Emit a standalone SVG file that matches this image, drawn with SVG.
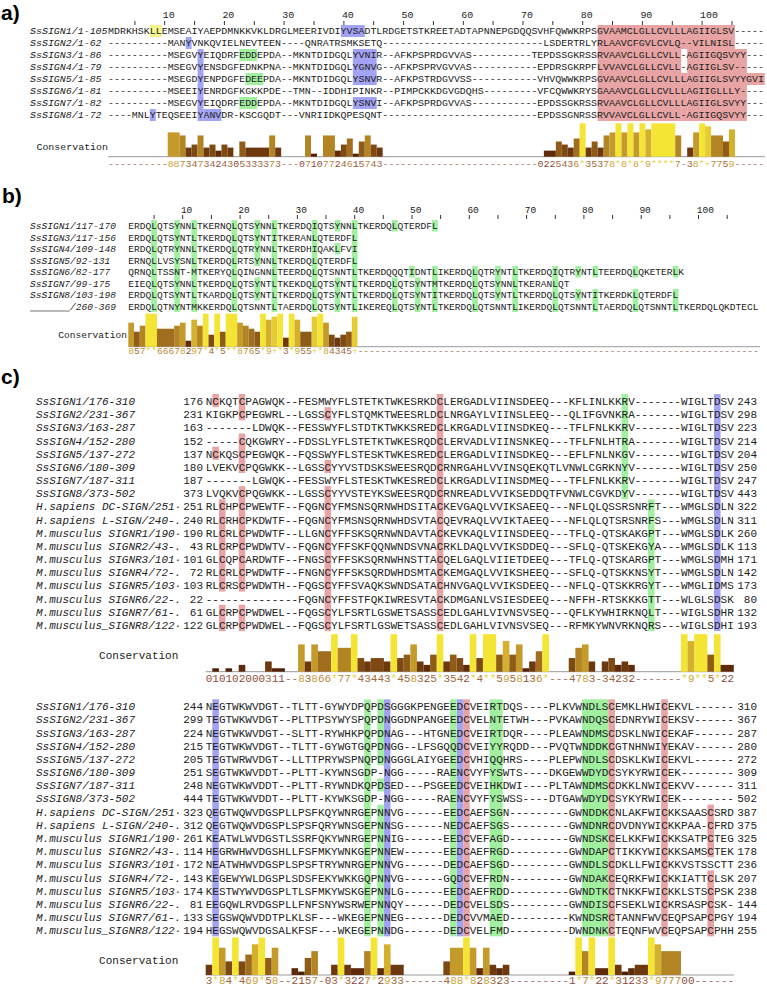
<svg xmlns="http://www.w3.org/2000/svg" width="767" height="987" viewBox="0 0 767 987">
<style>
text{font-family:"Liberation Mono","DejaVu Sans Mono",monospace;fill:#222}
.fa{font-size:9.95px}.fb{font-size:9.55px}.fc{font-size:11px}
.it{font-style:italic}
.pl{font-family:"Liberation Sans",Arial,sans-serif;font-weight:bold;font-size:21px;fill:#000}
.en{text-anchor:end}
.hy{fill:#f5f58c}.hb{fill:#a3a3f5}.hg{fill:#a0f0a0}.hp{fill:#e8a4a4}
.b1{fill:#502006}.b2{fill:#5e2a0a}.b3{fill:#6e380e}.b4{fill:#7e4a14}.b5{fill:#8f5c18}.b6{fill:#a06e1e}.b7{fill:#b28424}.b8{fill:#c49a2a}.b9{fill:#d4b02e}.b10{fill:#e6cc34}.b11{fill:#f4e434}
.nd{fill:#a8706a}.n0{fill:#8e4c3e}.n3{fill:#9e6a3e}.n6{fill:#b8893a}.n8{fill:#cca53a}.n10{fill:#e6d444}
.ax{stroke:#999;stroke-width:1;fill:none}
.tk{stroke:#333;stroke-width:1;fill:none}
</style>
<rect width="767" height="987" fill="#fff"/>

<g id="panel-a">
<text class="pl" x="1" y="20">a)</text>
<g id="a-ruler" class="fa">
<path class="tk" d="M134.9 21v4M164.7 21v4M194.6 21v4M224.4 21v4M254.3 21v4M284.1 21v4M314 21v4M343.9 21v4M373.7 21v4M403.6 21v4M433.4 21v4M463.3 21v4M493.1 21v4M523 21v4M552.8 21v4M582.7 21v4M612.5 21v4M642.4 21v4M672.3 21v4M702.1 21v4M732 21v4"/>
<text x="162.7" y="18.3">10</text><text x="222.4" y="18.3">20</text><text x="282.2" y="18.3">30</text><text x="341.9" y="18.3">40</text><text x="401.6" y="18.3">50</text><text x="461.3" y="18.3">60</text><text x="521" y="18.3">70</text><text x="580.7" y="18.3">80</text><text x="640.4" y="18.3">90</text><text x="700.1" y="18.3">100</text>
</g>
<g id="a-highlights" transform="translate(108 25) scale(5.971 12)">
<rect class="hy" x="7" y="0" width="2" height="1"/>
<rect class="hb" x="39" y="0" width="4" height="1"/>
<rect class="hb" x="13" y="1" width="1" height="1"/>
<rect class="hb" x="15" y="2" width="1" height="6"/>
<rect class="hb" x="16" y="7" width="3" height="1"/>
<rect class="hb" x="7" y="7" width="1" height="1"/>
<rect class="hb" x="41" y="2" width="4" height="3"/>
<rect class="hb" x="41" y="6" width="4" height="1"/>
<rect class="hg" x="22" y="2" width="3" height="1"/>
<rect class="hg" x="23" y="4" width="3" height="1"/>
<rect class="hg" x="22" y="6" width="3" height="1"/>
<rect class="hp" x="82" y="0" width="23" height="2"/>
<rect class="hp" x="82" y="2" width="14" height="6"/>
<rect class="hp" x="96" y="4" width="1" height="4"/>
<rect class="hp" x="97" y="2" width="10" height="6"/>
<rect class="hp" x="107" y="4" width="3" height="1"/>
</g>
<g id="a-names" class="fa it">
<text x="30" y="34.4">SsSIGN1/1-105</text>
<text x="30" y="46.4">SsSIGN2/1-62</text>
<text x="30" y="58.4">SsSIGN3/1-86</text>
<text x="30" y="70.4">SsSIGN4/1-79</text>
<text x="30" y="82.4">SsSIGN5/1-85</text>
<text x="30" y="94.4">SsSIGN6/1-81</text>
<text x="30" y="106.4">SsSIGN7/1-82</text>
<text x="30" y="118.4">SsSIGN8/1-72</text>
</g>
<g id="a-sequences" class="fa">
<text x="108" y="34.4">MDRKHSKLLEMSEAIYAEPDMNKKVKLDRGLMEERIVDIYVSADTLRDGETSTKREETADTAPNNEPGDQQSVHFQWWKRPSGVAAMCLGLLCVLLLAGIIGLSV-----</text>
<text x="108" y="46.4">----------MANYVNKQVIELNEVTEEN----QNRATRSMKSETQ---------------------------LSDERTRLYRLAAVCFGVLCVLQ--VILNISL-----</text>
<text x="108" y="58.4">----------MSEGVYEIQDRFEDDEPDA--MKNTDIDGQLYVNIR--AFKPSPRDGVVAS----------TEPDSSGKRSSRVAAVCLGLLCVLL-AGIIGQSVYY---</text>
<text x="108" y="70.4">----------MSEGVYENSDGFEDNKPNA--MKNTDIDGQLYGNVG--AFKPSPRVGVVAS-----------EPDRSGKRPFLVVAVCLGLLCVLL-AGIIGLSV-----</text>
<text x="108" y="82.4">----------MSEGDYENPDGFEDEEPDA--MKNTDIDGQLYSNVR--AFKPSTRDGVVSS-----------VHVQWWKRPSGVAAVCLGLLCVLLLAGIIGLSVYYGVI</text>
<text x="108" y="94.4">----------MSEEIYENRDGFKGKKPDE--TMN--IDDHIPINKR--PIMPCKKDGVGDQHS---------VFCQWWKRYSGAAAVCLGLLCVLLLAGIIGLLLY----</text>
<text x="108" y="106.4">----------MSEGVYEIQDRFEDDEPDA--MKNTDIDGQLYSNVI--AFKPSPRDGVVAS-----------EPDSSGKRSSRVAAVCLGLLCVLLLAGIIGLSVYY---</text>
<text x="108" y="118.4">----MNLYTEQSEEIYANVDR-KSCGQDT---VNRIIDKQPESQNT--------------------------EPDSSGNRSSRVVAVCLGLLCVLL-AGIIGQSVYY---</text>
</g>
<g id="a-conservation">
<text class="fa en" x="108" y="150">Conservation</text>
<path class="ax" d="M108 156.7H765"/>
<g transform="translate(108 156.7) scale(5.971 -3.036)">
<rect class="b8" x="10" width="2" height="8"/><rect class="b7" x="12" width="1" height="7"/><rect class="b3" x="13" width="1" height="3"/><rect class="b4" x="14" width="1" height="4"/><rect class="b7" x="15" width="1" height="7"/><rect class="b3" x="16" width="1" height="3"/><rect class="b4" x="17" width="1" height="4"/><rect class="b2" x="18" width="1" height="2"/><rect class="b4" x="19" width="1" height="4"/><rect class="b3" x="20" width="1" height="3"/><rect class="b5" x="22" width="1" height="5"/><rect class="b3" x="23" width="4" height="3"/><rect class="b7" x="27" width="1" height="7"/><rect class="b3" x="28" width="1" height="3"/>
<rect class="b7" x="33" width="1" height="7"/><rect class="b1" x="34" width="1" height="1"/><rect class="b7" x="36" width="2" height="7"/><rect class="b2" x="38" width="1" height="2"/><rect class="b4" x="39" width="1" height="4"/><rect class="b6" x="40" width="1" height="6"/><rect class="b1" x="41" width="1" height="1"/><rect class="b5" x="42" width="1" height="5"/><rect class="b7" x="43" width="1" height="7"/><rect class="b4" x="44" width="1" height="4"/><rect class="b3" x="45" width="1" height="3"/>
<rect class="b2" x="73" width="2" height="2"/><rect class="b5" x="75" width="1" height="5"/><rect class="b4" x="76" width="1" height="4"/><rect class="b3" x="77" width="1" height="3"/><rect class="b6" x="78" width="1" height="6"/><rect class="b11" x="79" width="1" height="11"/><rect class="b3" x="80" width="1" height="3"/><rect class="b5" x="81" width="1" height="5"/><rect class="b3" x="82" width="1" height="3"/><rect class="b7" x="83" width="1" height="7"/><rect class="b8" x="84" width="1" height="8"/><rect class="b11" x="85" width="1" height="11"/><rect class="b8" x="86" width="1" height="8"/><rect class="b11" x="87" width="1" height="11"/><rect class="b8" x="88" width="1" height="8"/><rect class="b11" x="89" width="1" height="11"/><rect class="b9" x="90" width="1" height="9"/><rect class="b11" x="91" width="4" height="11"/><rect class="b7" x="95" width="1" height="7"/><rect class="b3" x="97" width="1" height="3"/><rect class="b8" x="98" width="1" height="8"/><rect class="b11" x="99" width="1" height="11"/><rect class="b10" x="100" width="1" height="10"/><rect class="b7" x="101" width="2" height="7"/><rect class="b5" x="103" width="1" height="5"/><rect class="b9" x="104" width="1" height="9"/>
</g>
<text class="fa" x="108" y="166.5"><tspan class="nd">----------</tspan><tspan class="n8">88</tspan><tspan class="n6">7</tspan><tspan class="n3">34</tspan><tspan class="n6">7</tspan><tspan class="n3">34</tspan><tspan class="n0">2</tspan><tspan class="n3">43</tspan><tspan class="n0">0</tspan><tspan class="n3">53333</tspan><tspan class="n6">7</tspan><tspan class="n3">3</tspan><tspan class="nd">---</tspan><tspan class="n0">0</tspan><tspan class="n6">7</tspan><tspan class="n0">10</tspan><tspan class="n6">77</tspan><tspan class="n0">2</tspan><tspan class="n3">4</tspan><tspan class="n6">6</tspan><tspan class="n0">1</tspan><tspan class="n3">5</tspan><tspan class="n6">7</tspan><tspan class="n3">43</tspan><tspan class="nd">--------------------------</tspan><tspan class="n0">022</tspan><tspan class="n3">543</tspan><tspan class="n6">6</tspan><tspan class="n10">*</tspan><tspan class="n3">353</tspan><tspan class="n6">7</tspan><tspan class="n8">8</tspan><tspan class="n10">*</tspan><tspan class="n8">8</tspan><tspan class="n10">*</tspan><tspan class="n8">8</tspan><tspan class="n10">*</tspan><tspan class="n8">9</tspan><tspan class="n10">****</tspan><tspan class="n6">7</tspan><tspan class="nd">-</tspan><tspan class="n3">3</tspan><tspan class="n8">8</tspan><tspan class="n10">*+</tspan><tspan class="n6">77</tspan><tspan class="n3">5</tspan><tspan class="n8">9</tspan><tspan class="nd">-----</tspan></text>
</g>
</g>

<g id="panel-b">
<text class="pl" x="2" y="203">b)</text>
<g id="b-ruler" class="fb">
<path class="tk" d="M154.1 215v4M182.7 215v4M211.4 215v4M240.1 215v4M268.7 215v4M297.4 215v4M326 215v4M354.7 215v4M383.3 215v4M412 215v4M440.6 215v4M469.3 215v4M498 215v4M526.6 215v4M555.3 215v4M583.9 215v4M612.6 215v4M641.2 215v4M669.9 215v4M698.5 215v4M727.2 215v4"/>
<text x="180.9" y="213.3">10</text><text x="238.2" y="213.3">20</text><text x="295.5" y="213.3">30</text><text x="352.8" y="213.3">40</text><text x="410.1" y="213.3">50</text><text x="467.4" y="213.3">60</text><text x="524.7" y="213.3">70</text><text x="582.1" y="213.3">80</text><text x="639.4" y="213.3">90</text><text x="696.7" y="213.3">100</text>
</g>
<g id="b-highlights" class="hg" transform="translate(128.3 220) scale(5.731 11.5)">
<rect x="4" y="0" width="1" height="8"/><rect x="8" y="0" width="1" height="8"/><rect x="11" y="0" width="1" height="8"/><rect x="18" y="0" width="1" height="8"/>
<rect x="22" y="0" width="1" height="4"/><rect x="22" y="5" width="1" height="2"/><rect x="25" y="0" width="1" height="8"/><rect x="32" y="0" width="1" height="8"/>
<rect x="36" y="0" width="1" height="1"/><rect x="36" y="2" width="1" height="1"/><rect x="36" y="5" width="1" height="3"/><rect x="39" y="0" width="1" height="8"/>
<rect x="46" y="0" width="1" height="1"/><rect x="46" y="5" width="1" height="3"/><rect x="49" y="4" width="1" height="1"/><rect x="50" y="5" width="1" height="3"/>
<rect x="53" y="0" width="1" height="1"/><rect x="53" y="4" width="1" height="4"/><rect x="60" y="4" width="1" height="4"/><rect x="64" y="4" width="1" height="3"/>
<rect x="67" y="4" width="1" height="4"/><rect x="74" y="4" width="1" height="4"/><rect x="78" y="4" width="1" height="1"/><rect x="78" y="6" width="1" height="1"/>
<rect x="81" y="4" width="1" height="1"/><rect x="81" y="6" width="1" height="2"/><rect x="88" y="4" width="1" height="1"/><rect x="88" y="6" width="1" height="2"/>
<rect x="95" y="4" width="1" height="1"/><rect x="95" y="6" width="1" height="2"/>
</g>
<g id="b-names" class="fb it">
<text x="30" y="229">SsSIGN1/117-170</text>
<text x="30" y="240.5">SsSIGN3/117-156</text>
<text x="30" y="252">SsSIGN4/109-148</text>
<text x="30" y="263.5">SsSIGN5/92-131</text>
<text x="30" y="275">SsSIGN6/82-177</text>
<text x="30" y="286.5">SsSIGN7/99-175</text>
<text x="30" y="298">SsSIGN8/103-198</text>
<path d="M30 311H70" stroke="#777" stroke-width="1"/>
<text x="70.1" y="309.5">/260-369</text>
</g>
<g id="b-sequences" class="fb">
<text x="128.3" y="229">ERDQLQTSYNNLTKERNQLQTSYNNLTKERDQIQTSYNNLTKERDQLQTERDFL</text>
<text x="128.3" y="240.5">ERDQLQTSYNTLTKERDQLQTSYNTITKERANLQTERDFL</text>
<text x="128.3" y="252">ERDQLQTRYNNLTKERDQLQTRYNNLTKERDHIQAKLFVI</text>
<text x="128.3" y="263.5">ERNQLLVSYSNLTKERDQLRTSYNNLTKERDQLQTERDFL</text>
<text x="128.3" y="275">QRNQLTSSNT-MTKERYQLQINGNNLTEERDQLQTSNNTLTKERDQQQTIDNTLIKERDQLQTRYNTLTKERDQIQTRYNTLTEERDQLQKETERLK</text>
<text x="128.3" y="286.5">EIEQLQTSYNNLTKERDQLQTSYNTLTKEKDQLQTSYNTLTKERDQLQTSYNTMTKERDQLQTSYNNLTKERANLQT</text>
<text x="128.3" y="298">ERDQLQTSYNTLTKARDQLQTSYNTLTKERDQLQTSYNTLTKERDQLQTSYNTITKERDQLQTSYNTLTKERDQLQTSYNTITKERDKLQTERDFL</text>
<text x="128.3" y="309.5">ERDQLQTNYNTMKKERDQLQTSNNTLTAERDQLQTSYNTLIKEREQLQTSYNTLTKERDQLQTSNNTLIKERDQLQTSNNTLTAERDQLQTSNNTLTKERDQLQKDTECL</text>
</g>
<g id="b-conservation">
<text class="fb en" x="127" y="338.3">Conservation</text>
<path class="ax" d="M128.3 346.7H760"/>
<g transform="translate(128.3 346.7) scale(5.731 -3)">
<rect class="b8" x="0" width="1" height="8"/><rect class="b5" x="1" width="1" height="5"/><rect class="b7" x="2" width="1" height="7"/><rect class="b11" x="3" width="2" height="11"/><rect class="b6" x="5" width="3" height="6"/><rect class="b7" x="8" width="1" height="7"/><rect class="b8" x="9" width="1" height="8"/><rect class="b2" x="10" width="1" height="2"/><rect class="b9" x="11" width="1" height="9"/><rect class="b7" x="12" width="1" height="7"/><rect class="b11" x="13" width="1" height="11"/><rect class="b4" x="14" width="1" height="4"/><rect class="b11" x="15" width="1" height="11"/><rect class="b5" x="16" width="1" height="5"/><rect class="b11" x="17" width="2" height="11"/><rect class="b8" x="19" width="1" height="8"/><rect class="b7" x="20" width="1" height="7"/><rect class="b6" x="21" width="1" height="6"/><rect class="b5" x="22" width="1" height="5"/><rect class="b11" x="23" width="1" height="11"/><rect class="b9" x="24" width="1" height="9"/><rect class="b10" x="25" width="1" height="10"/><rect class="b11" x="26" width="1" height="11"/><rect class="b3" x="27" width="1" height="3"/><rect class="b11" x="28" width="1" height="11"/><rect class="b9" x="29" width="1" height="9"/><rect class="b5" x="30" width="2" height="5"/><rect class="b10" x="32" width="1" height="10"/><rect class="b11" x="33" width="1" height="11"/><rect class="b8" x="34" width="1" height="8"/><rect class="b4" x="35" width="1" height="4"/><rect class="b3" x="36" width="1" height="3"/><rect class="b4" x="37" width="1" height="4"/><rect class="b5" x="38" width="1" height="5"/><rect class="b10" x="39" width="1" height="10"/>
</g>
<text class="fb" x="128.3" y="354.3"><tspan class="n8">8</tspan><tspan class="n3">5</tspan><tspan class="n6">7</tspan><tspan class="n10">**</tspan><tspan class="n6">6667</tspan><tspan class="n8">8</tspan><tspan class="n0">2</tspan><tspan class="n8">9</tspan><tspan class="n6">7</tspan><tspan class="n10">*</tspan><tspan class="n3">4</tspan><tspan class="n10">*</tspan><tspan class="n3">5</tspan><tspan class="n10">**</tspan><tspan class="n8">8</tspan><tspan class="n6">76</tspan><tspan class="n3">5</tspan><tspan class="n10">*</tspan><tspan class="n8">9</tspan><tspan class="n10">+*</tspan><tspan class="n3">3</tspan><tspan class="n10">*</tspan><tspan class="n8">9</tspan><tspan class="n3">55</tspan><tspan class="n10">+*</tspan><tspan class="n8">8</tspan><tspan class="n3">4345</tspan><tspan class="n10">+</tspan><tspan class="nd">----------------------------------------------------------------------</tspan></text>
</g>
</g>

<g id="panel-c">
<text class="pl" x="1" y="383.5">c)</text>
<g id="c1-highlights" transform="translate(205.7 394) scale(6.601 13.17)">
<rect class="hp" x="1" y="0" width="1" height="1"/><rect class="hp" x="1" y="4" width="1" height="1"/><rect class="hp" x="2" y="8" width="1" height="7"/><rect class="hp" x="2" y="16" width="1" height="2"/>
<rect class="hp" x="5" y="0" width="1" height="2"/><rect class="hp" x="5" y="3" width="1" height="3"/><rect class="hp" x="5" y="7" width="1" height="8"/><rect class="hp" x="5" y="16" width="1" height="2"/>
<rect class="hp" x="18" y="1" width="1" height="1"/><rect class="hp" x="18" y="5" width="1" height="1"/><rect class="hp" x="18" y="7" width="1" height="11"/><rect class="hp" x="35" y="0" width="1" height="18"/>
<rect class="hg" x="63" y="0" width="1" height="8"/><rect class="hg" x="67" y="8" width="1" height="10"/><rect class="hb" x="77" y="0" width="1" height="18"/>
</g>
<g id="c1-names" class="fc it">
<text x="36" y="405">SsSIGN1/176-310</text>
<text x="36" y="418.17">SsSIGN2/231-367</text>
<text x="36" y="431.34">SsSIGN3/163-287</text>
<text x="36" y="444.51">SsSIGN4/152-280</text>
<text x="36" y="457.68">SsSIGN5/137-272</text>
<text x="36" y="470.85">SsSIGN6/180-309</text>
<text x="36" y="484.02">SsSIGN7/187-311</text>
<text x="36" y="497.19">SsSIGN8/373-502</text>
<text x="36" y="510.36">H.sapiens DC-SIGN/251·</text>
<text x="36" y="523.53">H.sapiens L-SIGN/240-.</text>
<text x="36" y="536.7">M.musculus SIGNR1/190·</text>
<text x="36" y="549.87">M.musculus SIGNR2/43-.</text>
<text x="36" y="563.04">M.musculus SIGNR3/101·</text>
<text x="36" y="576.21">M.musculus SIGNR4/72-.</text>
<text x="36" y="589.38">M.musculus SIGNR5/103·</text>
<text x="36" y="602.55">M.musculus SIGNR6/22-.</text>
<text x="36" y="615.72">M.musculus SIGNR7/61-.</text>
<text x="36" y="628.89">M.musculus_SIGNR8/122·</text>
</g>
<g id="c1-start" class="fc en">
<text x="203" y="405">176</text><text x="203" y="418.17">231</text><text x="203" y="431.34">163</text><text x="203" y="444.51">152</text><text x="203" y="457.68">137</text><text x="203" y="470.85">180</text><text x="203" y="484.02">187</text><text x="203" y="497.19">373</text><text x="203" y="510.36">251</text><text x="203" y="523.53">240</text><text x="203" y="536.7">190</text><text x="203" y="549.87">43</text><text x="203" y="563.04">101</text><text x="203" y="576.21">72</text><text x="203" y="589.38">103</text><text x="203" y="602.55">22</text><text x="203" y="615.72">61</text><text x="203" y="628.89">122</text>
</g>
<g id="c1-sequences" class="fc">
<text x="205.7" y="405">NCKQTCPAGWQK--FESMWYFLSTETKTWKESRKDCLERGADLVIINSDEEQ---KFLINLKKRV-------WIGLTDSV</text>
<text x="205.7" y="418.17">KIGKPCPEGWRL--LGSSCYFLSTQMKTWEESRLDCLNRGAYLVIINSLEEQ---QLIFGVNKRA-------WIGLTDSV</text>
<text x="205.7" y="431.34">-------LDWQK--FESSWYFLSTDTKTWKKSREDCLKRGADLVIINSDKEQ---TFLFNLKKRV-------WIGLTDSV</text>
<text x="205.7" y="444.51">-----CQKGWRY--FDSSLYFLSTETKTWKESRQDCLERVADLVIINSNKEQ---TFLFNLHTRA-------WIGLTDSV</text>
<text x="205.7" y="457.68">NCKQSCPEGWQK--FQSSWYFLSTESKTWKESREDCLERGADLVIINSDKEQ---EFLFNLNKGV-------WIGLTDSV</text>
<text x="205.7" y="470.85">LVEKVCPQGWKK--LGSSCYYVSTDSKSWEESRQDCRNRGAHLVVINSQEKQTLVNWLCGRKNYV-------WIGLTDSV</text>
<text x="205.7" y="484.02">-------LGWQK--FESSWYFLSTESKTWKESREDCLKRGADLVIINSDMEQ---TFLFNLKKRV-------WIGLTDSV</text>
<text x="205.7" y="497.19">LVQKVCPQGWKK--LGSSCYYVSTEYKSWEESRQDCRNREADLVVIKSEDDQTFVNWLCGVKDYV-------WIGLTDSV</text>
<text x="205.7" y="510.36">RLCHPCPWEWTF--FQGNCYFMSNSQRNWHDSITACKEVGAQLVVIKSAEEQ---NFLQLQSSRSNRFT---WMGLSDLN</text>
<text x="205.7" y="523.53">RLCRHCPKDWTF--FQGNCYFMSNSQRNWHDSVTACQEVRAQLVVIKTAEEQ---NFLQLQTSRSNRFS---WMGLSDLN</text>
<text x="205.7" y="536.7">RLCRLCPWDWTF--LLGNCYFFSKSQRNWNDAVTACKEVKAQLVIINSDEEQ---TFLQ-QTSKAKGPT---WMGLSDLK</text>
<text x="205.7" y="549.87">RLCRPCPWDWTV--FQGNCYFFSKFQQNWNDSVNACRKLDAQLVVIKSDDEQ---SFLQ-QTSKEKGYA---WMGLSDLK</text>
<text x="205.7" y="563.04">GLCQPCARDWTF--FNGSCYFFSKSQRNWHNSTTACQELGAQLVIIETDEEQ---TFLQ-QTSKARGPT---WMGLSDMH</text>
<text x="205.7" y="576.21">RLCRLCPWDWTF--FNGNCYFFSKSQRDWHDSMTACKEMGAQLVVIKSHEEQ---SFLQ-QTSKKNSYT---WMGLSDLN</text>
<text x="205.7" y="589.38">RLCRSCPWDWTH--FQGSCYFFSVAQKSWNDSATACHNVGAQLVVIKSDEEQ---NFLQ-QTSKKRGYT---WMGLIDMS</text>
<text x="205.7" y="602.55">--------------FQGNCYFFSTFQKIWRESVTACKDMGANLVSIESDEEQ---NFFH-RTSKKKGTT---WLGLSDSK</text>
<text x="205.7" y="615.72">GLCRPCPWDWEL--FQGSCYLFSRTLGSWETSASSCEDLGAHLVIVNSVSEQ---QFLKYWHIRKNQLT---WIGLSDHR</text>
<text x="205.7" y="628.89">GLCRPCPWDWEL--FQGSCYLFSRTLGSWETSASSCEDLGAHLVIVNSVSEQ---RFMKYWNVRKNQRS---WIGLSDHI</text>
</g>
<g id="c1-end" class="fc en">
<text x="757" y="405">243</text><text x="757" y="418.17">298</text><text x="757" y="431.34">223</text><text x="757" y="444.51">214</text><text x="757" y="457.68">204</text><text x="757" y="470.85">250</text><text x="757" y="484.02">247</text><text x="757" y="497.19">443</text><text x="757" y="510.36">322</text><text x="757" y="523.53">311</text><text x="757" y="536.7">260</text><text x="757" y="549.87">113</text><text x="757" y="563.04">171</text><text x="757" y="576.21">142</text><text x="757" y="589.38">173</text><text x="757" y="602.55">80</text><text x="757" y="615.72">132</text><text x="757" y="628.89">193</text>
</g>
<g id="c1-conservation">
<text class="fc en" x="178.3" y="659.3">Conservation</text>
<path class="ax" d="M205.7 671.7H734"/>
<g transform="translate(205.7 671.7) scale(6.601 -3.41)">
<rect class="b1" x="1" width="1" height="1"/><rect class="b1" x="3" width="1" height="1"/><rect class="b2" x="5" width="1" height="2"/><rect class="b3" x="9" width="1" height="3"/><rect class="b1" x="10" width="2" height="1"/><rect class="b8" x="14" width="1" height="8"/><rect class="b3" x="15" width="1" height="3"/><rect class="b8" x="16" width="1" height="8"/><rect class="b6" x="17" width="2" height="6"/><rect class="b11" x="19" width="1" height="11"/><rect class="b7" x="20" width="2" height="7"/><rect class="b11" x="22" width="1" height="11"/><rect class="b4" x="23" width="1" height="4"/><rect class="b3" x="24" width="1" height="3"/><rect class="b4" x="25" width="2" height="4"/><rect class="b3" x="27" width="1" height="3"/><rect class="b11" x="28" width="1" height="11"/><rect class="b4" x="29" width="1" height="4"/><rect class="b5" x="30" width="1" height="5"/><rect class="b8" x="31" width="1" height="8"/><rect class="b3" x="32" width="1" height="3"/><rect class="b2" x="33" width="1" height="2"/><rect class="b5" x="34" width="1" height="5"/><rect class="b11" x="35" width="1" height="11"/><rect class="b3" x="36" width="1" height="3"/><rect class="b5" x="37" width="1" height="5"/><rect class="b4" x="38" width="1" height="4"/><rect class="b2" x="39" width="1" height="2"/><rect class="b11" x="40" width="1" height="11"/><rect class="b4" x="41" width="1" height="4"/><rect class="b11" x="42" width="2" height="11"/><rect class="b5" x="44" width="1" height="5"/><rect class="b9" x="45" width="1" height="9"/><rect class="b5" x="46" width="1" height="5"/><rect class="b8" x="47" width="1" height="8"/><rect class="b1" x="48" width="1" height="1"/><rect class="b3" x="49" width="1" height="3"/><rect class="b6" x="50" width="1" height="6"/><rect class="b11" x="51" width="1" height="11"/>
<rect class="b4" x="55" width="1" height="4"/><rect class="b7" x="56" width="1" height="7"/><rect class="b8" x="57" width="1" height="8"/><rect class="b3" x="58" width="1" height="3"/><rect class="b3" x="60" width="1" height="3"/><rect class="b4" x="61" width="1" height="4"/><rect class="b2" x="62" width="1" height="2"/><rect class="b3" x="63" width="1" height="3"/><rect class="b2" x="64" width="1" height="2"/>
<rect class="b11" x="72" width="1" height="11"/><rect class="b9" x="73" width="1" height="9"/><rect class="b11" x="74" width="2" height="11"/><rect class="b5" x="76" width="1" height="5"/><rect class="b11" x="77" width="1" height="11"/><rect class="b2" x="78" width="2" height="2"/>
</g>
<text class="fc" x="205.7" y="681.5"><tspan class="n0">010102000</tspan><tspan class="n3">3</tspan><tspan class="n0">11</tspan><tspan class="nd">--</tspan><tspan class="n8">8</tspan><tspan class="n3">3</tspan><tspan class="n8">8</tspan><tspan class="n6">66</tspan><tspan class="n10">*</tspan><tspan class="n6">77</tspan><tspan class="n10">*</tspan><tspan class="n3">43443</tspan><tspan class="n10">*</tspan><tspan class="n3">45</tspan><tspan class="n8">8</tspan><tspan class="n3">3</tspan><tspan class="n0">2</tspan><tspan class="n3">5</tspan><tspan class="n10">*</tspan><tspan class="n3">354</tspan><tspan class="n0">2</tspan><tspan class="n10">*</tspan><tspan class="n3">4</tspan><tspan class="n10">**</tspan><tspan class="n3">5</tspan><tspan class="n8">9</tspan><tspan class="n3">5</tspan><tspan class="n8">8</tspan><tspan class="n0">1</tspan><tspan class="n3">3</tspan><tspan class="n6">6</tspan><tspan class="n10">*</tspan><tspan class="nd">---</tspan><tspan class="n3">4</tspan><tspan class="n6">7</tspan><tspan class="n8">8</tspan><tspan class="n3">3</tspan><tspan class="nd">-</tspan><tspan class="n3">34</tspan><tspan class="n0">2</tspan><tspan class="n3">3</tspan><tspan class="n0">2</tspan><tspan class="nd">-------</tspan><tspan class="n10">*</tspan><tspan class="n8">9</tspan><tspan class="n10">**</tspan><tspan class="n3">5</tspan><tspan class="n10">*</tspan><tspan class="n0">22</tspan></text>
</g>

<g id="c2-highlights" transform="translate(205.7 699.3) scale(6.601 13.17)">
<rect class="hb" x="1" y="0" width="1" height="18"/><rect class="hb" x="27" y="0" width="1" height="18"/><rect class="hb" x="38" y="0" width="1" height="18"/>
<rect class="hg" x="24" y="0" width="1" height="18"/><rect class="hg" x="26" y="0" width="1" height="5"/><rect class="hg" x="26" y="6" width="1" height="1"/><rect class="hg" x="26" y="8" width="1" height="10"/>
<rect class="hg" x="37" y="0" width="1" height="18"/><rect class="hg" x="43" y="0" width="2" height="18"/><rect class="hg" x="57" y="0" width="4" height="18"/>
<rect class="hp" x="39" y="0" width="1" height="18"/><rect class="hp" x="61" y="0" width="1" height="18"/><rect class="hp" x="69" y="0" width="1" height="18"/><rect class="hp" x="76" y="8" width="1" height="4"/><rect class="hp" x="76" y="13" width="1" height="5"/>
</g>
<g id="c2-names" class="fc it">
<text x="36" y="710.3">SsSIGN1/176-310</text>
<text x="36" y="723.47">SsSIGN2/231-367</text>
<text x="36" y="736.64">SsSIGN3/163-287</text>
<text x="36" y="749.81">SsSIGN4/152-280</text>
<text x="36" y="762.98">SsSIGN5/137-272</text>
<text x="36" y="776.15">SsSIGN6/180-309</text>
<text x="36" y="789.32">SsSIGN7/187-311</text>
<text x="36" y="802.49">SsSIGN8/373-502</text>
<text x="36" y="815.66">H.sapiens DC-SIGN/251·</text>
<text x="36" y="828.83">H.sapiens L-SIGN/240-.</text>
<text x="36" y="842">M.musculus SIGNR1/190·</text>
<text x="36" y="855.17">M.musculus SIGNR2/43-.</text>
<text x="36" y="868.34">M.musculus SIGNR3/101·</text>
<text x="36" y="881.51">M.musculus SIGNR4/72-.</text>
<text x="36" y="894.68">M.musculus SIGNR5/103·</text>
<text x="36" y="907.85">M.musculus SIGNR6/22-.</text>
<text x="36" y="921.02">M.musculus SIGNR7/61-.</text>
<text x="36" y="934.19">M.musculus_SIGNR8/122·</text>
</g>
<g id="c2-start" class="fc en">
<text x="203" y="710.3">244</text><text x="203" y="723.47">299</text><text x="203" y="736.64">224</text><text x="203" y="749.81">215</text><text x="203" y="762.98">205</text><text x="203" y="776.15">251</text><text x="203" y="789.32">248</text><text x="203" y="802.49">444</text><text x="203" y="815.66">323</text><text x="203" y="828.83">312</text><text x="203" y="842">261</text><text x="203" y="855.17">114</text><text x="203" y="868.34">172</text><text x="203" y="881.51">143</text><text x="203" y="894.68">174</text><text x="203" y="907.85">81</text><text x="203" y="921.02">133</text><text x="203" y="934.19">194</text>
</g>
<g id="c2-sequences" class="fc">
<text x="205.7" y="710.3">NEGTWKWVDGT--TLTT-GYWYDPQPDSGGGKPENGEEDCVEIRTDQS----PLKVWNDLSCEMKLHWICEKVL------</text>
<text x="205.7" y="723.47">TEGTWKWVDGT--PLTTPSYWYSPQPDNGGDNPANGEEDCVELNTETWH---PVKAWNDQSCEDNRYWICEKSV------</text>
<text x="205.7" y="736.64">NEGTWKWVDGT--SLTT-RYWHKPQPDNAG---HTGNEDCVEIRTDQR----PLEAWNDMSCDSKLNWICEKAF------</text>
<text x="205.7" y="749.81">TEGTWKWVDGT--TLTT-GYWGTGQPDNGG--LFSGQQDCVEIYYRQDD---PVQTWNDDKCGTNHNWIYEKAV------</text>
<text x="205.7" y="762.98">TEGTWRWVDGT--LLTTPRYWSPNQPDNGGGLAIYGEEDCVHIQQHRS----PLEPWNDLSCDSKLKWICEKVL------</text>
<text x="205.7" y="776.15">SEGTWKWVDDT--PLTT-KYWNSGDP-NGG-----RAENCVYFYSWTS----DKGEWWDYDCSYKYRWICEK--------</text>
<text x="205.7" y="789.32">NEGTWKWVDDT--PLTT-RYWNDKQPDSED---PSGEEDCVEIHKDWI----PLTAWNDMSCDKKLNWICEKVV------</text>
<text x="205.7" y="802.49">TEGTWKWVDDT--PLTT-KYWKSGDP-NGG-----RAENCVYFYSWSS----DTGAWWDYDCSYKYRWICEK--------</text>
<text x="205.7" y="815.66">QEGTWQWVDGSPLLPSFKQYWNRGEPNNVG------EEDCAEFSGN---------GWNDDKCNLAKFWICKKSAASCSRD</text>
<text x="205.7" y="828.83">QEGTWQWVDGSPLSPSFQRYWNSGEPNNSG------NEDCAEFSGS---------GWNDNRCDVDNYWICKKPAA-CFRD</text>
<text x="205.7" y="842">KEATWLWVDGSTLSSRFQKYWNRGEPNNIG------EEDCVEFAGD---------GWNDSKCELKKFWICKKSATPCTEG</text>
<text x="205.7" y="855.17">HEGRWHWVDGSHLLFSFMKYWNKGEPNNEW------EEDCAEFRGD---------GWNDAPCTIKKYWICKKSAMSCTEK</text>
<text x="205.7" y="868.34">NEATWHWVDGSPLSPSFTRYWNRGEPNNVG------DEDCAEFSGD---------GWNDLSCDKLLFWICKKVSTSSCTT</text>
<text x="205.7" y="881.51">KEGEWYWLDGSPLSDSFEKYWKKGQPNNVG------GQDCVEFRDN---------GWNDAKCEQRKFWICKKIATTCLSK</text>
<text x="205.7" y="894.68">KESTWYWVDGSPLTLSFMKYWSKGEPNNLG------EEDCAEFRDD---------GWNDTKCTNKKFWICKKLSTSCPSK</text>
<text x="205.7" y="907.85">EEGQWLRVDGSPLLFNFSNYWSRWEPNNQY------DEDCVELSDS---------GWNDISCFSEKLWICKRSASPCSK-</text>
<text x="205.7" y="921.02">SEGSWQWVDDTPLKLSF---WKEGEPNNEG------DEDCVVMAED---------KWNDSRCTANNFWVCEQPSAPCPGY</text>
<text x="205.7" y="934.19">HEGSWQWVDGSALKFSF---WKEGEPNNDG------DEDCVELFMD---------DWNDNKCTEQNFWVCEQPSAPCPHH</text>
</g>
<g id="c2-end" class="fc en">
<text x="757" y="710.3">310</text><text x="757" y="723.47">367</text><text x="757" y="736.64">287</text><text x="757" y="749.81">280</text><text x="757" y="762.98">272</text><text x="757" y="776.15">309</text><text x="757" y="789.32">311</text><text x="757" y="802.49">502</text><text x="757" y="815.66">387</text><text x="757" y="828.83">375</text><text x="757" y="842">325</text><text x="757" y="855.17">178</text><text x="757" y="868.34">236</text><text x="757" y="881.51">207</text><text x="757" y="894.68">238</text><text x="757" y="907.85">144</text><text x="757" y="921.02">194</text><text x="757" y="934.19">255</text>
</g>
<g id="c2-conservation">
<text class="fc en" x="178.3" y="964.3">Conservation</text>
<path class="ax" d="M205.7 975H734"/>
<g transform="translate(205.7 975) scale(6.601 -3.41)">
<rect class="b3" x="0" width="1" height="3"/><rect class="b11" x="1" width="1" height="11"/><rect class="b8" x="2" width="1" height="8"/><rect class="b4" x="3" width="1" height="4"/><rect class="b11" x="4" width="1" height="11"/><rect class="b4" x="5" width="1" height="4"/><rect class="b6" x="6" width="1" height="6"/><rect class="b9" x="7" width="1" height="9"/><rect class="b11" x="8" width="1" height="11"/><rect class="b5" x="9" width="1" height="5"/><rect class="b8" x="10" width="1" height="8"/>
<rect class="b2" x="13" width="1" height="2"/><rect class="b1" x="14" width="1" height="1"/><rect class="b5" x="15" width="1" height="5"/><rect class="b7" x="16" width="1" height="7"/><rect class="b3" x="19" width="1" height="3"/><rect class="b11" x="20" width="1" height="11"/><rect class="b3" x="21" width="1" height="3"/><rect class="b2" x="22" width="2" height="2"/><rect class="b7" x="24" width="1" height="7"/><rect class="b11" x="25" width="1" height="11"/><rect class="b2" x="26" width="1" height="2"/><rect class="b9" x="27" width="1" height="9"/><rect class="b3" x="28" width="2" height="3"/>
<rect class="b4" x="36" width="1" height="4"/><rect class="b8" x="37" width="2" height="8"/><rect class="b11" x="39" width="1" height="11"/><rect class="b8" x="40" width="1" height="8"/><rect class="b2" x="41" width="1" height="2"/><rect class="b8" x="42" width="1" height="8"/><rect class="b3" x="43" width="1" height="3"/><rect class="b2" x="44" width="1" height="2"/><rect class="b3" x="45" width="1" height="3"/>
<rect class="b1" x="55" width="1" height="1"/><rect class="b11" x="56" width="1" height="11"/><rect class="b7" x="57" width="1" height="7"/><rect class="b11" x="58" width="1" height="11"/><rect class="b2" x="59" width="2" height="2"/><rect class="b11" x="61" width="1" height="11"/><rect class="b3" x="62" width="1" height="3"/><rect class="b1" x="63" width="1" height="1"/><rect class="b2" x="64" width="1" height="2"/><rect class="b3" x="65" width="2" height="3"/><rect class="b11" x="67" width="1" height="11"/><rect class="b9" x="68" width="1" height="9"/><rect class="b7" x="69" width="3" height="7"/>
</g>
<text class="fc" x="205.7" y="984.3"><tspan class="n3">3</tspan><tspan class="n10">*</tspan><tspan class="n8">8</tspan><tspan class="n3">4</tspan><tspan class="n10">*</tspan><tspan class="n3">4</tspan><tspan class="n6">6</tspan><tspan class="n8">9</tspan><tspan class="n10">*</tspan><tspan class="n3">5</tspan><tspan class="n8">8</tspan><tspan class="nd">--</tspan><tspan class="n0">21</tspan><tspan class="n3">5</tspan><tspan class="n6">7</tspan><tspan class="nd">-</tspan><tspan class="n0">0</tspan><tspan class="n3">3</tspan><tspan class="n10">*</tspan><tspan class="n3">3</tspan><tspan class="n0">22</tspan><tspan class="n6">7</tspan><tspan class="n10">*</tspan><tspan class="n0">2</tspan><tspan class="n8">9</tspan><tspan class="n3">33</tspan><tspan class="nd">------</tspan><tspan class="n3">4</tspan><tspan class="n8">88</tspan><tspan class="n10">*</tspan><tspan class="n8">8</tspan><tspan class="n0">2</tspan><tspan class="n8">8</tspan><tspan class="n3">3</tspan><tspan class="n0">2</tspan><tspan class="n3">3</tspan><tspan class="nd">---------</tspan><tspan class="n0">1</tspan><tspan class="n10">*</tspan><tspan class="n6">7</tspan><tspan class="n10">*</tspan><tspan class="n0">22</tspan><tspan class="n10">*</tspan><tspan class="n3">3</tspan><tspan class="n0">12</tspan><tspan class="n3">33</tspan><tspan class="n10">*</tspan><tspan class="n8">9</tspan><tspan class="n6">777</tspan><tspan class="n0">00</tspan><tspan class="nd">------</tspan></text>
</g>
</g>
</svg>
